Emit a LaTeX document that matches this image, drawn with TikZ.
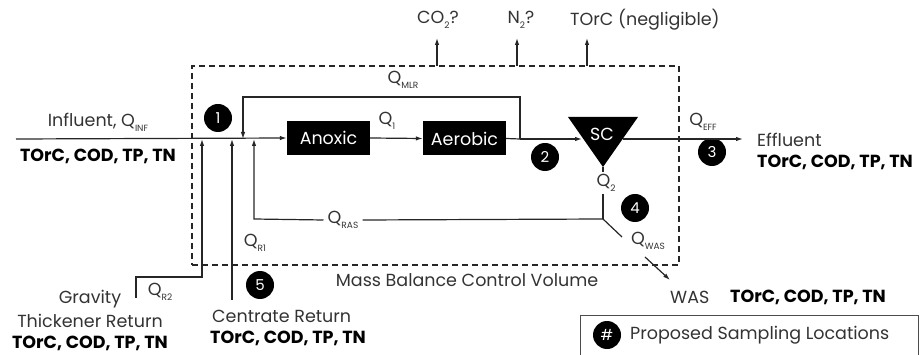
\documentclass[tikz,border=0pt]{standalone}
\usepackage{fontspec}
\setmainfont{Poppins}
\usetikzlibrary{arrows.meta}
\definecolor{ink}{HTML}{333333}
\newcommand{\qsub}[1]{\raisebox{-0.55ex}{\fontsize{9}{9}\selectfont #1}}
\begin{document}
\begin{tikzpicture}[x=1pt,y=-1pt,
  font=\fontsize{17.5}{20}\selectfont, text=ink,
  line/.style={draw=black!85, line width=1.2pt},
  arr/.style={line, -{Latex[length=7pt,width=4.5pt]}},
  procbox/.style={fill=black, text=white, minimum width=83pt, minimum height=34pt, inner sep=0pt},
  numdot/.style={circle, fill=black, text=white, minimum size=28pt, inner sep=0pt, font=\fontsize{15}{15}\selectfont},
  boldtxt/.style={font=\fontsize{17.5}{20}\selectfont\bfseries, text=black, inner sep=0pt},
  lbl/.style={inner sep=0pt},
  cvbox/.style={draw=black!85, line width=1.1pt, dash pattern=on 6pt off 4pt}
]
\useasboundingbox (0,0) rectangle (923,355);

% control volume
\node[cvbox, minimum width=487pt, minimum height=199pt, inner sep=0pt] (cv) at (435.5,165.5) {};
\node[lbl] (cvlbl) at (467,280) {Mass Balance Control Volume};

% process units
\node[procbox] (anoxic) at (328.5,138) {Anoxic};
\node[procbox] (aerobic) at (464.5,138.5) {Aerobic};
\coordinate (sctl) at (568,117);
\coordinate (sctr) at (638,117);
\coordinate (scapex) at (603,167);
\fill[black] (sctl) -- (sctr) -- (scapex) -- cycle;
\node[lbl, text=white] (sc) at (602,134) {SC};

% junction coordinates
\coordinate (inL) at (16,139);
\coordinate (jR2) at (202,139);
\coordinate (jR1) at (232,139);
\coordinate (jMLR) at (243,139);
\coordinate (jRAS) at (254,139);
\coordinate (mlrA) at (520,139);
\coordinate (mlrR) at (520,97);
\coordinate (mlrL) at (243,97);
\coordinate (scIn) at (582,139);
\coordinate (scOut) at (623,139);
\coordinate (effEnd) at (743,139);
\coordinate (q2bot) at (603,172);
\coordinate (q2top) at (603,194);
\coordinate (jW) at (603,219);
\coordinate (rasC) at (254,219);
\coordinate (wasA) at (622,237);
\coordinate (wasB) at (645,257);
\coordinate (wasC) at (670,280);
\coordinate (r2a) at (136,298);
\coordinate (r2b) at (136,277);
\coordinate (r2c) at (202,277);
\coordinate (r1a) at (232,300);
\coordinate (g1) at (437,66);
\coordinate (g1t) at (437,38);
\coordinate (g2) at (517,66);
\coordinate (g2t) at (517,38);
\coordinate (g3) at (587,66);
\coordinate (g3t) at (587,38);

% labels
\node[lbl] (inf) at (98,122) {Influent, Q\qsub{INF}};
\node[boldtxt] (infb) at (98,156) {TOrC, COD, TP, TN};
\node[lbl] (co2) at (438,20) {CO\qsub{2}?};
\node[lbl] (n2) at (521,20) {N\qsub{2}?};
\node[lbl, anchor=west] (torc) at (570,20) {TOrC (negligible)};
\node[lbl] (qmlr) at (403,80) {Q\qsub{MLR}};
\node[lbl] (q1) at (387,121) {Q\qsub{1}};
\node[lbl] (qeff) at (703,122) {Q\qsub{EFF}};
\node[lbl, anchor=west] (eff) at (757,140) {Effluent};
\node[boldtxt, anchor=west] (effb) at (757,162) {TOrC, COD, TP, TN};
\node[lbl] (q2) at (606,183) {Q\qsub{2}};
\node[lbl, inner xsep=4pt] (qras) at (343,220) {Q\qsub{RAS}};
\node[lbl] (qwas) at (648,241) {Q\qsub{WAS}};
\node[lbl, anchor=west] (was) at (670,297) {WAS};
\node[boldtxt, anchor=west] (wasb) at (730,297) {TOrC, COD, TP, TN};
\node[lbl] (qr2) at (160,292) {Q\qsub{R2}};
\node[lbl] (qr1) at (255,243) {Q\qsub{R1}};
\node[lbl] (grav) at (90,299) {Gravity};
\node[lbl] (thick) at (90,321) {Thickener Return};
\node[boldtxt] (gravb) at (90,343) {TOrC, COD, TP, TN};
\node[lbl, anchor=west] (cent) at (212,316) {Centrate Return};
\node[boldtxt, anchor=west] (centb) at (210,338) {TOrC, COD, TP, TN};

% sampling locations
\node[numdot] (s1) at (218,118) {1};
\node[numdot] (s2) at (545,157) {2};
\node[numdot] (s3) at (712,152) {3};
\node[numdot] (s4) at (635,208) {4};
\node[numdot] (s5) at (260,285) {5};

% legend
\node[draw=black!70, line width=0.8pt, minimum width=338pt, minimum height=40pt, inner sep=0pt] (legend) at (749,335) {};
\node[numdot] (sh) at (607,335) {\#};
\node[lbl, anchor=west] (legtxt) at (630,335) {Proposed Sampling Locations};

% connectors
\draw[arr] (inL) -- (anoxic.west);
\draw[arr] (anoxic.east) -- (aerobic.west);
\draw[line] (aerobic.east) -- (mlrA);
\draw[arr] (mlrA) -- (scIn);
\draw[arr] (mlrA) -- (mlrR) -- (mlrL) -- (jMLR);
\draw[arr] (scOut) -- (effEnd);
\draw[line] (scapex) -- (q2bot);
\draw[line] (q2top) -- (jW);
\draw[line] (jW) -- (qras.east);
\draw[arr] (qras.west) -- (rasC) -- (jRAS);
\draw[line] (jW) -- (wasA);
\draw[arr] (wasB) -- (wasC);
\draw[arr] (r2a) -- (r2b) -- (r2c) -- (jR2);
\draw[arr] (r1a) -- (jR1);
\draw[arr] (g1) -- (g1t);
\draw[arr] (g2) -- (g2t);
\draw[arr] (g3) -- (g3t);
\end{tikzpicture}
\end{document}
